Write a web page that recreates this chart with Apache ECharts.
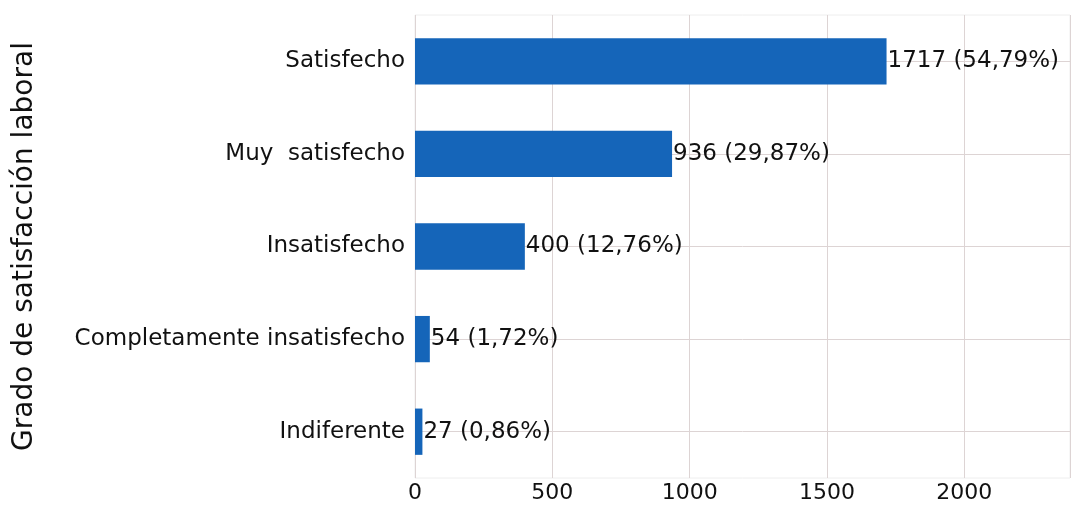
<!DOCTYPE html>
<html>
<head>
<meta charset="utf-8">
<script src="https://cdn.jsdelivr.net/npm/echarts@6/dist/echarts.min.js"></script>
<style>
  html, body { margin: 0; padding: 0; background: #fff; }
  #chart { width: 1074px; height: 507px; }
</style>
</head>
<body>
<div id="chart"></div>
<script>
// categories from top to bottom
const categories = ['Satisfecho', 'Muy  satisfecho', 'Insatisfecho', 'Completamente insatisfecho', 'Indiferente']
const counts = [1717, 936, 400, 54, 27]
const percents = ['54,79%', '29,87%', '12,76%', '1,72%', '0,86%']
const xTicks = [0, 500, 1000, 1500, 2000]

const chart = echarts.init(document.getElementById('chart'))
const font = 'DejaVu Sans'

const option = {
  animation: false,
  textStyle: { fontFamily: font },
  grid: {
    left: 415, right: 4, top: 15, bottom: 29,
    outerBoundsMode: 'none',
    show: true, borderColor: '#eeeeee', borderWidth: 1,
  },
  xAxis: {
    type: 'value',
    min: 0,
    max: 2385,
    interval: 500,
    axisLine: { show: false },
    axisTick: { show: false },
    axisLabel: {
      color: '#111', fontSize: 22, margin: 4, fontFamily: font,
      formatter: v => xTicks.includes(v) ? String(v) : '',
    },
    splitLine: { show: true, lineStyle: { color: '#ddd4d4', width: 1 } },
  },
  yAxis: {
    type: 'category',
    data: categories,
    inverse: true,
    name: 'Grado de satisfacción laboral',
    nameLocation: 'middle',
    nameRotate: 90,
    nameGap: 376,
    nameTextStyle: { color: '#111', fontSize: 28, fontFamily: font },
    axisLine: { show: false },
    axisTick: { show: false },
    splitLine: { show: false },
    axisLabel: { color: '#111', fontSize: 23, margin: 10, fontFamily: font },
  },
  series: [{
    type: 'bar',
    data: counts,
    barWidth: '50%',
    z: 2,
    itemStyle: { color: '#1565b9' },
    label: {
      show: true,
      position: 'right',
      distance: 1,
      color: '#111',
      fontSize: 23,
      fontFamily: font,
      formatter: p => p.value + ' (' + percents[p.dataIndex] + ')',
    },
    markLine: {
      silent: true,
      z: 1,
      symbol: 'none',
      label: { show: false },
      lineStyle: { color: '#ddd4d4', width: 1, type: 'solid' },
      data: categories.map(c => ({ yAxis: c })),
    },
  }],
}

chart.setOption(option)
</script>
</body>
</html>
